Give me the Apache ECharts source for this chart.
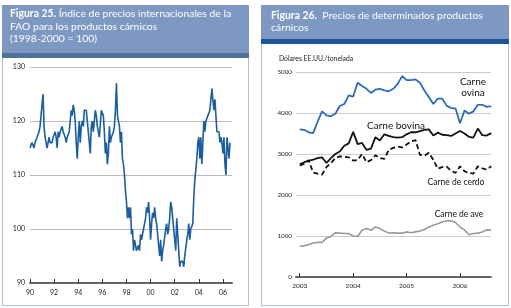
<!DOCTYPE html>
<html>
<head>
<meta charset="utf-8">
<script src="https://cdn.jsdelivr.net/npm/echarts@6/dist/echarts.min.js"></script>
<style>
html, body { margin: 0; padding: 0; background: #fff; }
#chart { width: 511px; height: 308px; }
</style>
</head>
<body>
<div id="chart"></div>
<script>
// Figura 25: indice mensual FAO, ene 1990 - ago 2006
var indiceCarne = [
	115,115,116,116,115,116,116,117,117,118,119,121,
	123,125,119,117,116,115,116,117,116,116,116,117,
	117,118,117,115,118,117,118,118,119,118,118,117,
	116,117,117,118,118,122,121,123,122,120,116,113,
	117,120,116,119,120,119,122,122,122,120,118,116,
	114,119,120,118,120,122,121,119,118,117,117,122,
	122,121,118,114,116,112,114,119,116,117,117,118,
	119,122,127,121,121,119,116,118,113,112,110,107,
	105,102,104,102,104,99,100,96,98,97,96,96,
	97,96,99,98,99,100,101,102,104,103,105,102,
	98,101,103,102,104,102,101,99,97,95,98,94,
	96,97,97,100,101,99,100,102,105,104,102,102,
	98,96,102,99,96,93,94,94,94,93,95,95,
	98,99,101,98,100,100,101,106,109,111,113,116,
	117,113,117,112,116,120,118,120,120,121,121,122,
	124,126,126,122,124,124,118,118,118,116,117,116,
	114,117,112,110,117,115,113,116
];
var anosIzq = [1990,1992,1994,1996,1998,2000,2002,2004,2006];

// Figura 26: precios mensuales ene 2003 - ago 2006 (USD/t)
var ovina = [
	3600,3590,3530,3510,3780,4040,3940,3920,3980,4170,4220,4430,
	4400,4740,4660,4590,4490,4570,4590,4550,4530,4590,4710,4900,
	4800,4800,4820,4740,4550,4390,4220,4350,4350,4180,4120,4110,
	3750,4060,3980,4040,4200,4200,4150,4170
];
var bovina = [
	2750,2800,2830,2860,2900,2920,2780,2900,3000,3060,3200,3260,
	3540,3240,3270,3100,3130,3410,3330,3480,3440,3410,3400,3410,
	3480,3530,3530,3560,3590,3600,3450,3520,3470,3460,3440,3500,
	3560,3500,3420,3400,3620,3460,3450,3510
];
var cerdo = [
	2720,2760,2850,2550,2520,2500,2680,2780,2900,2940,2930,2920,
	2840,2850,3000,2800,2850,2970,2900,2880,3100,3150,3180,3160,
	3230,3310,3340,2980,2960,3030,2860,2640,2680,2690,2590,2540,
	2700,2580,2540,2520,2700,2650,2620,2700
];
var ave = [
	750,760,790,830,845,845,950,990,1080,1070,1060,1060,
	1000,990,1140,1180,1140,1220,1180,1120,1070,1080,1070,1070,
	1100,1080,1100,1120,1160,1220,1260,1300,1340,1370,1370,1330,
	1220,1150,1030,1060,1070,1100,1150,1150
];
var anosDer = [2003,2004,2005,2006];

function mensual(valores, inicio) {
	var out = [];
	for (var i = 0; i < valores.length; i++) {
		out.push([inicio + i / 12, valores[i]]);
	}
	return out;
}

var fuente = 'Lato';
var colorCabecera = '#7d98c3';
var colorBorde = '#a9bfd5';

var myChart = echarts.init(document.getElementById('chart'));

myChart.setOption({
	animation: false,
	graphic: [
		// panel izquierdo
		{ type: 'rect', shape: { x: 2.5, y: 5.5, width: 246, height: 300 }, style: { fill: '#fff', stroke: colorBorde, lineWidth: 1 }, z: -10 },
		{ type: 'rect', shape: { x: 2, y: 5, width: 247, height: 48 }, style: { fill: colorCabecera }, z: -9 },
		{ type: 'rect', shape: { x: 2, y: 53, width: 247, height: 5 }, style: { fill: '#4c7295' }, z: -9 },
		{
			type: 'text', left: 10, top: 7, z: 10,
			style: {
				text: '{b|Figura 25.} Índice de precios internacionales de la\nFAO para los productos cárnicos\n(1998-2000 = 100)',
				fill: '#fff', font: '10.4px ' + fuente, lineHeight: 12.8,
				rich: { b: { fontWeight: 'bold', fill: '#fff', fontSize: 10.4, fontFamily: fuente } }
			}
		},
		// panel derecho
		{ type: 'rect', shape: { x: 261.5, y: 5.5, width: 247, height: 300 }, style: { fill: '#fff', stroke: colorBorde, lineWidth: 1 }, z: -10 },
		{ type: 'rect', shape: { x: 261, y: 5, width: 248, height: 34 }, style: { fill: colorCabecera }, z: -9 },
		{ type: 'rect', shape: { x: 261, y: 39, width: 248, height: 5 }, style: { fill: '#1b5595' }, z: -9 },
		{
			type: 'text', left: 271, top: 9, z: 10,
			style: {
				text: '{b|Figura 26.}  Precios de determinados productos\ncárnicos',
				fill: '#fff', font: '10.4px ' + fuente, lineHeight: 12.5,
				rich: { b: { fontWeight: 'bold', fill: '#fff', fontSize: 10.4, fontFamily: fuente } }
			}
		},
		{ type: 'text', left: 279, top: 55, z: 10, style: { text: 'Dólares EE.UU./tonelada', fill: '#222', font: '6.8px ' + fuente } },
		// etiquetas de las series
		{ type: 'text', x: 473, y: 87, z: 10, style: { text: 'Carne\novina', fill: '#111', font: '10px ' + fuente, align: 'center', verticalAlign: 'middle', lineHeight: 11 } },
		{ type: 'text', x: 396, y: 126, z: 10, style: { text: 'Carne bovina', fill: '#111', font: '10px ' + fuente, align: 'center', verticalAlign: 'middle' } },
		{ type: 'text', x: 456, y: 182, z: 10, style: { text: 'Carne de cerdo', fill: '#111', font: '8.5px ' + fuente, align: 'center', verticalAlign: 'middle' } },
		{ type: 'text', x: 459, y: 214, z: 10, style: { text: 'Carne de ave', fill: '#111', font: '8.5px ' + fuente, align: 'center', verticalAlign: 'middle' } }
	],
	grid: [
		{ left: 30, top: 67, width: 202, height: 216 },
		{ left: 296, top: 72, width: 195, height: 205 }
	],
	xAxis: [
		{
			gridIndex: 0, type: 'value', min: 1990, max: 2006.75,
			axisLine: { lineStyle: { color: '#666', width: 2 } },
			axisTick: { inside: true, length: 4, customValues: anosIzq, lineStyle: { color: '#333', width: 1 } },
			axisLabel: {
				customValues: anosIzq, color: '#222', fontSize: 7, fontFamily: fuente, margin: 6,
				formatter: function (v) { return String(v).slice(2); }
			},
			splitLine: { show: false }
		},
		{
			gridIndex: 1, type: 'value', min: 2002.93, max: 2006.58,
			axisLine: { lineStyle: { color: '#666', width: 2 } },
			axisTick: { inside: true, length: 4, customValues: anosDer, lineStyle: { color: '#333', width: 1 } },
			axisLabel: {
				customValues: anosDer, color: '#222', fontSize: 6.5, fontFamily: fuente, margin: 5,
				formatter: function (v) { return String(v); }
			},
			splitLine: { show: false }
		}
	],
	yAxis: [
		{
			gridIndex: 0, type: 'value', min: 90, max: 130, interval: 10,
			axisLine: { show: false }, axisTick: { show: false },
			axisLabel: { color: '#222', fontSize: 7, fontFamily: fuente, margin: 5 },
			splitLine: { lineStyle: { color: '#bbb', width: 1 } }
		},
		{
			gridIndex: 1, type: 'value', min: 0, max: 5000, interval: 1000,
			axisLine: { show: false }, axisTick: { show: false },
			axisLabel: {
				color: '#222', fontSize: 6.3, fontFamily: fuente, margin: 4,
				formatter: function (v) { return String(v); }
			},
			splitLine: { lineStyle: { color: '#ccc', width: 1 } }
		}
	],
	series: [
		{
			name: 'Índice FAO', type: 'line', xAxisIndex: 0, yAxisIndex: 0,
			data: mensual(indiceCarne, 1990), showSymbol: false,
			lineStyle: { color: '#1b5e9f', width: 1.6 }
		},
		{
			name: 'Carne de ave', type: 'line', xAxisIndex: 1, yAxisIndex: 1,
			data: mensual(ave, 2003), showSymbol: false,
			lineStyle: { color: '#9a9a9a', width: 1.6 }
		},
		{
			name: 'Carne de cerdo', type: 'line', xAxisIndex: 1, yAxisIndex: 1,
			data: mensual(cerdo, 2003), showSymbol: false,
			lineStyle: { color: '#111', width: 1.8, type: [5, 3] }
		},
		{
			name: 'Carne bovina', type: 'line', xAxisIndex: 1, yAxisIndex: 1,
			data: mensual(bovina, 2003), showSymbol: false,
			lineStyle: { color: '#111', width: 1.8 }
		},
		{
			name: 'Carne ovina', type: 'line', xAxisIndex: 1, yAxisIndex: 1,
			data: mensual(ovina, 2003), showSymbol: false,
			lineStyle: { color: '#2a6db6', width: 1.8 }
		}
	]
});
</script>
</body>
</html>
